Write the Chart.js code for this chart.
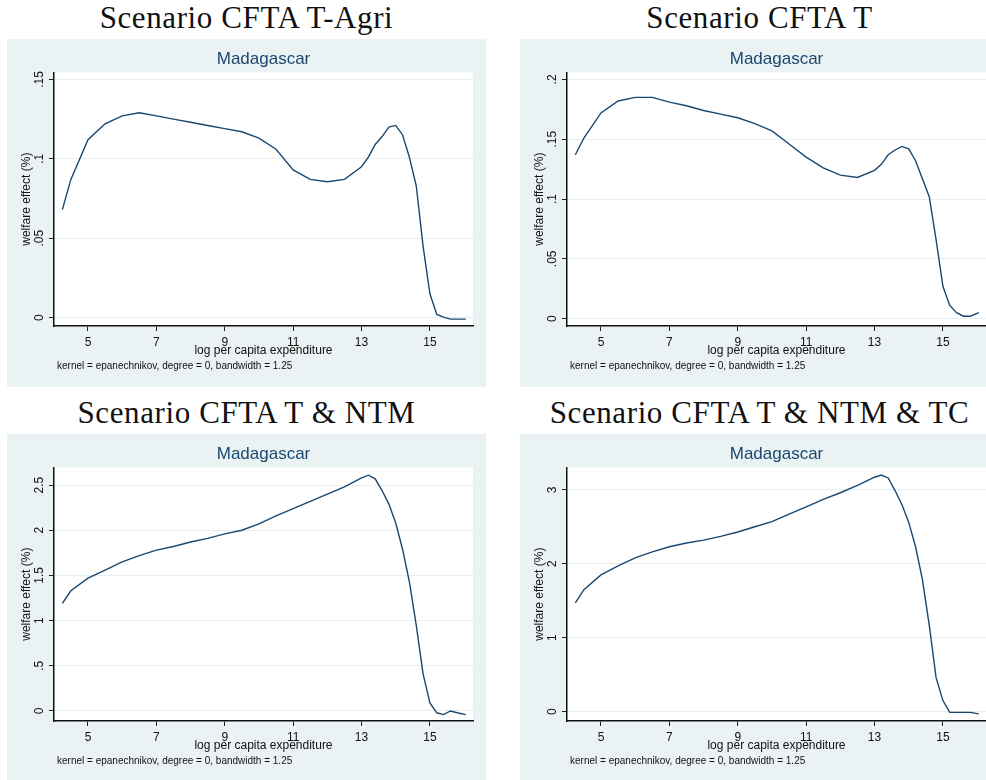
<!DOCTYPE html>
<html>
<head>
<meta charset="utf-8">
<script src="https://cdn.jsdelivr.net/npm/chart.js@4.4.1/dist/chart.umd.min.js"></script>
<style>
  body { margin: 0; width: 986px; height: 780px; overflow: hidden; background: #fff; position: relative; }
  .panel { position: absolute; width: 479px; height: 348px; }
  .ttl { position: absolute; width: 479px; text-align: center; font: 31px "Liberation Serif", "Times New Roman", serif; line-height: 36px; letter-spacing: 0.6px; color: #111; white-space: nowrap; }
</style>
</head>
<body>
<div class="ttl" style="left:7px;top:0px">Scenario CFTA T-Agri</div>
<div class="ttl" style="left:520px;top:0px">Scenario CFTA T</div>
<div class="ttl" style="left:7px;top:395px">Scenario CFTA T &amp; NTM</div>
<div class="ttl" style="left:520px;top:395px">Scenario CFTA T &amp; NTM &amp; TC</div>
<div class="panel" style="left:7px;top:39px"><canvas id="c1" width="479" height="348"></canvas></div>
<div class="panel" style="left:520px;top:39px"><canvas id="c2" width="479" height="348"></canvas></div>
<div class="panel" style="left:7px;top:434px"><canvas id="c3" width="479" height="348"></canvas></div>
<div class="panel" style="left:520px;top:434px"><canvas id="c4" width="479" height="348"></canvas></div>
<script>
// log per capita expenditure grid (shared by all four smooths)
const logExp = [4.25, 4.5, 5, 5.5, 6, 6.5, 7, 7.5, 8, 8.5, 9, 9.5, 10, 10.5, 11, 11.5, 12, 12.5,
  13, 13.2, 13.4, 13.6, 13.8, 14, 14.2, 14.4, 14.6, 14.8, 15, 15.2, 15.4, 15.6, 15.8, 16.05];

// welfare effect (%) per scenario
const tAgri = [0.068, 0.087, 0.112, 0.122, 0.127, 0.129, 0.127, 0.125, 0.123, 0.121, 0.119, 0.117, 0.113, 0.106,
  0.093, 0.087, 0.0855, 0.087, 0.095, 0.101, 0.109, 0.114, 0.120, 0.121, 0.115, 0.101, 0.083, 0.045, 0.015,
  0.002, 0.0003, -0.001, -0.001, -0.001];
const tOnly = [0.137, 0.151, 0.172, 0.182, 0.185, 0.185, 0.181, 0.178, 0.174, 0.171, 0.168, 0.163, 0.157, 0.146,
  0.135, 0.126, 0.120, 0.118, 0.124, 0.129, 0.137, 0.141, 0.144, 0.142, 0.132, 0.117, 0.102, 0.066, 0.027,
  0.011, 0.005, 0.002, 0.002, 0.005];
const tNtm = [1.19, 1.33, 1.47, 1.56, 1.65, 1.72, 1.78, 1.82, 1.87, 1.91, 1.96, 2.00, 2.07, 2.16,
  2.24, 2.32, 2.40, 2.48, 2.58, 2.61, 2.57, 2.44, 2.29, 2.08, 1.79, 1.43, 0.95, 0.41, 0.09,
  -0.02, -0.04, 0.0, -0.02, -0.04];
const tNtmTc = [1.47, 1.65, 1.85, 1.97, 2.08, 2.16, 2.23, 2.28, 2.32, 2.37, 2.43, 2.50, 2.57, 2.67,
  2.77, 2.87, 2.96, 3.06, 3.17, 3.20, 3.16, 2.99, 2.80, 2.56, 2.23, 1.79, 1.17, 0.46, 0.15,
  -0.01, -0.01, -0.01, -0.01, -0.03];

const xTicks = [5, 7, 9, 11, 13, 15];
const yTicks1 = [0, 0.05, 0.1, 0.15];
const yTicks2 = [0, 0.05, 0.1, 0.15, 0.2];
const yTicks3 = [0, 0.5, 1, 1.5, 2, 2.5];
const yTicks4 = [0, 1, 2, 3];

const country = 'Madagascar';
const xTitle = 'log per capita expenditure';
const yTitle = 'welfare effect (%)';
const note = 'kernel = epanechnikov, degree = 0, bandwidth = 1.25';

const SANS = '"Liberation Sans", Arial, sans-serif';
const NAVY = '#1A476F';
const BG = '#EAF2F3';

// stata style: no leading zero
const fmt = v => String(Math.round(v * 1000) / 1000).replace(/^0\./, '.').replace(/^-0\./, '-.');

const measure = document.createElement('canvas').getContext('2d');
measure.font = '12px ' + SANS;

const stataPanel = {
  id: 'stataPanel',
  beforeDraw(chart) {
    const { ctx, chartArea: a, width, height } = chart;
    ctx.save();
    ctx.fillStyle = BG;
    ctx.fillRect(0, 0, width, height);
    ctx.fillStyle = '#fff';
    ctx.fillRect(a.left, a.top, a.right - a.left, a.bottom - a.top);
    ctx.restore();
  },
  afterDraw(chart) {
    const { ctx, chartArea: a } = chart;
    ctx.save();
    ctx.font = '10px ' + SANS;
    ctx.fillStyle = '#111';
    ctx.textBaseline = 'middle';
    ctx.textAlign = 'left';
    ctx.fillText(note, a.left + 3, a.bottom + 40);
    ctx.restore();
  }
};

function panel(id, ys, yTicks, yMin, yMax) {
  const widest = Math.max(...yTicks.map(v => measure.measureText(fmt(v)).width));
  new Chart(document.getElementById(id), {
    type: 'line',
    data: {
      datasets: [{
        data: logExp.map((x, i) => ({ x: x, y: ys[i] })),
        borderColor: NAVY,
        borderWidth: 1.4,
        pointRadius: 0,
        tension: 0,
        fill: false
      }]
    },
    options: {
      responsive: false,
      animation: false,
      events: [],
      layout: { padding: { left: 0, right: 13, top: 0, bottom: 0 } },
      plugins: {
        legend: { display: false },
        tooltip: { enabled: false },
        title: {
          display: true,
          text: country,
          fullSize: false,
          color: NAVY,
          font: { family: SANS, size: 17, weight: 'normal', lineHeight: 1.2 },
          padding: { top: 10, bottom: 3 }
        }
      },
      scales: {
        x: {
          type: 'linear',
          min: 4.006,
          max: 16.26,
          afterBuildTicks: s => { s.ticks = xTicks.map(v => ({ value: v })); },
          afterFit: s => { s.height = 61; },
          ticks: { autoSkip: false, maxRotation: 0, minRotation: 0, padding: 4, color: '#111',
            font: { family: SANS, size: 12 }, callback: v => String(v) },
          grid: { drawOnChartArea: false, drawTicks: true, tickLength: 5, tickColor: '#222', tickWidth: 1 },
          border: { display: true, color: '#111', width: 1.5 },
          title: { display: true, text: xTitle, color: '#111', font: { family: SANS, size: 12 },
            padding: { top: 0, bottom: 29 } }
        },
        y: {
          type: 'linear',
          min: yMin,
          max: yMax,
          afterBuildTicks: s => { s.ticks = yTicks.map(v => ({ value: v })); },
          afterFit: s => { s.width = 47; },
          ticks: { autoSkip: false, minRotation: 90, maxRotation: 90, crossAlign: 'center',
            padding: 14.5 - 5 - widest / 2, color: '#111',
            font: { family: SANS, size: 12 }, callback: v => fmt(v) },
          grid: { color: '#E6EEF0', lineWidth: 1, drawTicks: true, tickLength: 5, tickColor: '#222', tickWidth: 1 },
          border: { display: true, color: '#111', width: 1.5 },
          title: { display: true, text: yTitle, color: '#111', font: { family: SANS, size: 12 },
            padding: { top: 12, bottom: 0 } }
        }
      }
    },
    plugins: [stataPanel]
  });
}

panel('c1', tAgri, yTicks1, -0.0053, 0.1544);
panel('c2', tOnly, yTicks2, -0.0062, 0.2059);
panel('c3', tNtm, yTicks3, -0.111, 2.696);
panel('c4', tNtmTc, yTicks4, -0.126, 3.303);
</script>
</body>
</html>
